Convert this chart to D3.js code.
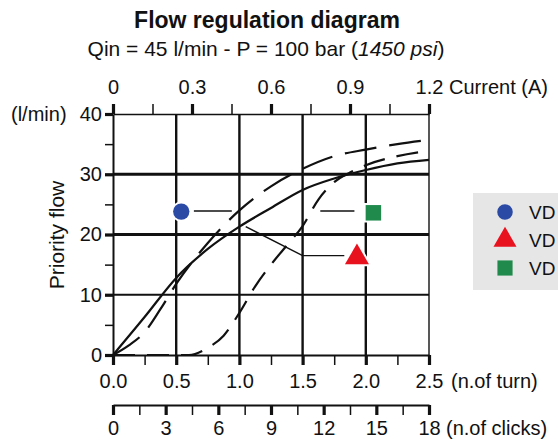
<!DOCTYPE html>
<html>
<head>
<meta charset="utf-8">
<script src="https://cdn.jsdelivr.net/npm/d3@7"></script>
<style>
  html, body { margin: 0; padding: 0; background: #ffffff; }
  svg { display: block; font-family: "Liberation Sans", Arial, sans-serif; }
</style>
</head>
<body>
<svg id="chart" width="558" height="441"></svg>
<script>
// ---------- data ----------
const titleText = "Flow regulation diagram";
const turnTicks = [0, 0.25, 0.5, 0.75, 1.0, 1.25, 1.5, 1.75, 2.0, 2.25, 2.5];
const turnLabels = [0, 0.5, 1.0, 1.5, 2.0, 2.5];
const currentTicks = [0, 0.15, 0.3, 0.45, 0.6, 0.75, 0.9, 1.05, 1.2];
const currentLabels = [0, 0.3, 0.6, 0.9, 1.2];
const clickTicks = [0, 1.5, 3, 4.5, 6, 7.5, 9, 10.5, 12, 13.5, 15, 16.5, 18];
const clickLabels = [0, 3, 6, 9, 12, 15, 18];
const flowTicks = [0, 5, 10, 15, 20, 25, 30, 35, 40];
const flowLabels = [0, 10, 20, 30, 40];
const gridX = [0.5, 1.0, 1.5, 2.0];
const gridY = [10, 20, 30];

// solid curve
const solidTurn = [0, 0.25, 0.5, 0.75, 1.0, 1.25, 1.5, 1.75, 2.0, 2.25, 2.5];
const solidFlow = [0, 6.3, 12.8, 17.6, 21.3, 24.4, 27.4, 29.3, 30.7, 31.8, 32.4];
// long-dash curve (rises fastest)
const dashATurn = [0, 0.125, 0.25, 0.375, 0.5, 0.75, 1.0, 1.25, 1.5, 1.75, 2.0, 2.25, 2.5];
const dashAFlow = [0, 1.6, 3.8, 7.6, 11.8, 18.6, 24.0, 28.0, 30.9, 33.0, 34.1, 35.0, 35.7];
// dashed curve (delayed start)
const dashBTurn = [0, 0.6, 0.75, 0.875, 1.0, 1.125, 1.25, 1.375, 1.5, 1.625, 1.75, 1.875, 2.0, 2.25, 2.5];
const dashBFlow = [0, 0, 1.2, 3.2, 7.0, 11.4, 15.0, 18.2, 21.4, 25.8, 28.7, 30.3, 31.5, 33.0, 33.9];

const legendNames = ["VD", "VD", "VD"];
const legendColors = ["#2b4aa6", "#e8121f", "#1f8a4c"];
const markerTurn = [0.54, 1.93, 2.06];
const markerFlow = [23.8, 16.2, 23.6];

// ---------- setup ----------
const svg = d3.select("#chart");
const x = d3.scaleLinear().domain([0, 2.5]).range([113, 429]);
const y = d3.scaleLinear().domain([0, 40]).range([355, 114]);
const xCur = d3.scaleLinear().domain([0, 1.2]).range([113, 429]);
const xClk = d3.scaleLinear().domain([0, 18]).range([113, 429]);
const ink = "#111";

// title
svg.append("text").attr("x", 267).attr("y", 28).attr("text-anchor", "middle")
  .attr("font-size", 23).attr("font-weight", "bold").attr("fill", ink).text(titleText);
const sub = svg.append("text").attr("x", 266).attr("y", 56).attr("text-anchor", "middle")
  .attr("font-size", 21).attr("fill", ink);
sub.append("tspan").text("Qin = 45 l/min - P = 100 bar (");
sub.append("tspan").attr("font-style", "italic").text("1450 psi");
sub.append("tspan").text(")");

// gridlines
const grid = svg.append("g");
grid.selectAll(".gx").data(gridX).join("line")
  .attr("x1", d => x(d)).attr("x2", d => x(d)).attr("y1", y(40)).attr("y2", y(0))
  .attr("stroke", ink).attr("stroke-width", 2.4);
grid.selectAll(".gy").data(gridY).join("line")
  .attr("x1", x(0)).attr("x2", x(2.5)).attr("y1", d => y(d)).attr("y2", d => y(d))
  .attr("stroke", ink).attr("stroke-width", d => d === 10 ? 2 : 3.2);
// right border
grid.append("line").attr("x1", x(2.5)).attr("x2", x(2.5)).attr("y1", y(40)).attr("y2", y(0))
  .attr("stroke", ink).attr("stroke-width", 1.4);

function styleAxis(g, majors) {
  g.select(".domain").attr("stroke", ink).attr("stroke-width", 1.6);
  g.selectAll(".tick line").attr("stroke", ink)
    .attr("stroke-width", d => majors.some(m => Math.abs(m - d) < 1e-9) ? 3.2 : 1.5);
  g.selectAll(".tick text").attr("font-size", 20).attr("fill", ink)
    .attr("font-family", "Liberation Sans, Arial, sans-serif");
}
const isIn = (arr, d) => arr.some(m => Math.abs(m - d) < 1e-9);

// top axis: current
const gTop = svg.append("g").attr("transform", `translate(0,${y(40)})`)
  .call(d3.axisTop(xCur).tickValues(currentTicks).tickSize(10).tickSizeOuter(0).tickPadding(10)
    .tickFormat(d => isIn(currentLabels, d) ? (d === 0 ? "0" : d3.format(".1f")(d)) : ""));
styleAxis(gTop, currentLabels);
svg.append("text").attr("x", 449).attr("y", 94).attr("font-size", 20).attr("fill", ink).text("Current (A)");

// left axis: flow
const gLeft = svg.append("g").attr("transform", `translate(${x(0)},0)`)
  .call(d3.axisLeft(y).tickValues(flowTicks).tickSize(8).tickSizeOuter(0).tickPadding(3)
    .tickFormat(d => isIn(flowLabels, d) ? d : ""));
styleAxis(gLeft, flowLabels);
gLeft.select(".domain").attr("stroke-width", 2);
svg.append("text").attr("x", 11).attr("y", 121).attr("font-size", 20).attr("fill", ink).text("(l/min)");
svg.append("text").attr("transform", "translate(64,235) rotate(-90)").attr("text-anchor", "middle")
  .attr("font-size", 21).attr("fill", ink).text("Priority flow");

// bottom axis: turns
const gBot = svg.append("g").attr("transform", `translate(0,${y(0)})`)
  .call(d3.axisBottom(x).tickValues(turnTicks).tickSize(10).tickSizeOuter(0).tickPadding(9)
    .tickFormat(d => isIn(turnLabels, d) ? d3.format(".1f")(d) : ""));
styleAxis(gBot, turnLabels);
gBot.select(".domain").attr("stroke-width", 2);
svg.append("text").attr("x", 451).attr("y", 388).attr("font-size", 20).attr("fill", ink).text("(n.of turn)");

// clicks axis
const gClk = svg.append("g").attr("transform", "translate(0,405)")
  .call(d3.axisBottom(xClk).tickValues(clickTicks).tickSize(10).tickSizeOuter(0).tickPadding(6)
    .tickFormat(d => isIn(clickLabels, d) ? d : ""));
styleAxis(gClk, clickLabels);
gClk.select(".domain").attr("stroke-width", 2);
svg.append("text").attr("x", 446).attr("y", 435).attr("font-size", 20).attr("fill", ink).text("(n.of clicks)");

// curves
const line = d3.line().x(d => x(d[0])).y(d => y(d[1])).curve(d3.curveMonotoneX);
const zip = (a, b) => a.map((v, i) => [v, b[i]]);
const curves = svg.append("g").attr("fill", "none").attr("stroke", ink).attr("stroke-width", 2.2);
curves.append("path").attr("d", line(zip(solidTurn, solidFlow)));
curves.append("path").attr("d", line(zip(dashATurn, dashAFlow))).attr("stroke-dasharray", "32,13");
curves.append("path").attr("d", line(zip(dashBTurn, dashBFlow))).attr("stroke-dasharray", "22,12");

// leader lines
const leaders = [
  [[0.64, 23.9], [0.94, 23.9]],
  [[1.83, 16.5], [1.5, 16.5], [1.05, 21.3]],
  [[1.64, 23.9], [1.91, 23.9]]
];
const lineL = d3.line().x(d => x(d[0])).y(d => y(d[1]));
svg.append("g").selectAll("path").data(leaders).join("path")
  .attr("d", d => lineL(d)).attr("fill", "none").attr("stroke", ink).attr("stroke-width", 1.4);

// markers
const symTypes = [d3.symbolCircle, d3.symbolTriangle, d3.symbolSquare];
const symSizes = [210, 250, 240];
svg.append("g").selectAll("path").data(markerTurn).join("path")
  .attr("transform", (d, i) => `translate(${x(d)},${y(markerFlow[i])})`)
  .attr("d", (d, i) => d3.symbol(symTypes[i], symSizes[i])())
  .attr("fill", (d, i) => legendColors[i])
  .attr("stroke", "#fff").attr("stroke-width", 4).attr("paint-order", "stroke");

// legend
const lg = svg.append("g");
lg.append("rect").attr("x", 473).attr("y", 193).attr("width", 100).attr("height", 97).attr("fill", "#e6e6e6");
lg.selectAll("path").data(legendNames).join("path")
  .attr("transform", (d, i) => `translate(505,${212 + i * 28})`)
  .attr("d", (d, i) => d3.symbol(symTypes[i], [190, 230, 230][i])())
  .attr("fill", (d, i) => legendColors[i]);
lg.selectAll("text").data(legendNames).join("text")
  .attr("x", 529).attr("y", (d, i) => 219 + i * 28).attr("font-size", 19).attr("fill", ink).text(d => d);
</script>
</body>
</html>
